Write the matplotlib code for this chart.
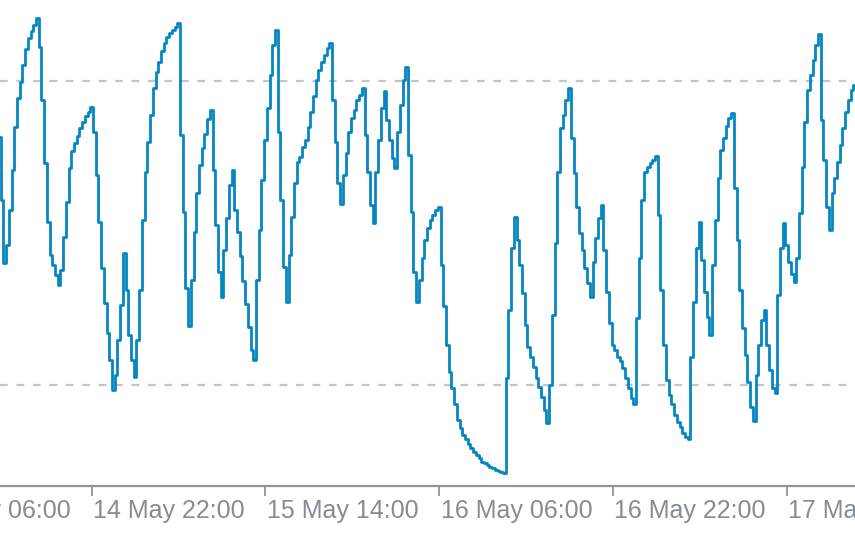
import pandas as pd
import matplotlib
matplotlib.use("Agg")
import matplotlib.pyplot as plt
import matplotlib.dates as mdates

# ------------------------------
# Data (stochastic main line, M15 bars)
# ------------------------------
start = "2024-05-14 13:30"
values = [
    69.0, 56.5, 44.1, 47.6, 54.6, 62.4, 70.9, 76.7, 79.8, 83.2,
    86.3, 88.5, 89.9, 91.1, 92.4, 86.7, 76.3, 63.8, 52.2, 45.7,
    43.7, 41.7, 39.8, 42.7, 49.2, 56.1, 62.8, 66.2, 67.8, 69.2,
    70.7, 71.9, 73.1, 73.9, 74.9, 69.9, 61.5, 52.2, 43.1, 36.2,
    30.3, 24.9, 19.0, 22.0, 28.9, 35.8, 46.1, 38.8, 29.9, 24.9,
    21.6, 28.9, 38.8, 52.6, 62.1, 68.0, 73.3, 78.6, 81.8, 83.8,
    85.9, 87.5, 88.7, 89.5, 90.1, 90.7, 91.5, 69.4, 54.2, 39.2,
    31.7, 40.7, 50.2, 57.9, 63.4, 66.8, 69.6, 72.5, 74.3, 62.4,
    51.6, 42.3, 37.4, 46.7, 53.0, 59.5, 62.4, 54.6, 50.2, 45.5,
    40.5, 36.0, 31.5, 26.9, 24.9, 40.7, 50.6, 60.5, 68.4, 74.7,
    81.2, 87.1, 90.1, 69.9, 56.5, 43.3, 36.4, 45.7, 53.2, 59.9,
    64.0, 65.0, 67.0, 68.4, 70.9, 73.9, 77.1, 80.2, 82.2, 83.8,
    85.1, 86.5, 87.5, 76.3, 68.0, 59.9, 55.7, 61.5, 65.8, 69.9,
    72.7, 74.3, 76.3, 77.3, 78.6, 69.4, 62.1, 55.5, 52.0, 62.1,
    68.4, 74.7, 78.0, 72.3, 68.4, 64.8, 62.8, 69.9, 75.3, 80.2,
    82.8, 65.4, 54.2, 42.3, 36.4, 40.7, 45.1, 48.6, 51.0, 52.6,
    53.6, 54.6, 55.1, 43.7, 35.6, 27.9, 22.6, 19.4, 16.1, 13.1,
    11.5, 10.1, 9.2, 8.2, 7.6, 6.8, 6.2, 5.6, 4.8, 4.6,
    4.2, 3.8, 3.6, 3.2, 3.0, 2.8, 2.6, 21.4, 34.8, 47.1,
    53.2, 48.6, 43.7, 38.2, 31.9, 27.5, 25.5, 23.6, 21.4, 19.6,
    17.6, 15.1, 12.5, 20.0, 33.8, 48.0, 62.1, 70.7, 73.3, 76.3,
    78.6, 68.8, 61.9, 55.1, 50.0, 46.7, 43.1, 40.1, 37.4, 44.3,
    49.0, 53.0, 55.5, 46.7, 38.4, 32.2, 27.9, 26.9, 25.5, 24.6,
    23.4, 21.4, 19.4, 17.4, 16.1, 33.2, 45.1, 56.5, 62.1, 63.0,
    63.8, 64.4, 65.2, 53.6, 38.8, 27.9, 21.0, 18.0, 16.1, 14.1,
    12.7, 11.7, 10.5, 9.6, 9.2, 25.5, 36.4, 47.1, 52.2, 44.7,
    38.4, 33.4, 29.9, 43.7, 52.6, 60.9, 66.4, 68.8, 71.1, 72.7,
    73.7, 58.9, 48.6, 38.8, 31.3, 25.9, 20.6, 15.7, 12.9, 22.0,
    27.9, 32.8, 34.8, 27.9, 23.0, 19.4, 18.4, 37.8, 47.1, 52.0,
    47.6, 44.3, 41.9, 40.3, 45.1, 54.0, 63.0, 71.9, 78.2, 81.2,
    84.2, 87.1, 89.3, 72.3, 64.4, 55.1, 50.6, 57.9, 60.9, 64.0,
    67.4, 70.7, 73.9, 76.3, 78.2, 79.2,
]
levels = [20, 80]
tick_times = ["2024-05-14 06:00", "2024-05-14 22:00", "2024-05-15 14:00",
              "2024-05-16 06:00", "2024-05-16 22:00", "2024-05-17 14:00"]
tick_labels = ["14 May 06:00", "14 May 22:00", "15 May 14:00",
               "16 May 06:00", "16 May 22:00", "17 May 14:00"]

times = pd.date_range(start, periods=len(values), freq="15min")

# ------------------------------
# Style
# ------------------------------
LINE_C = "#0586c2"
GRID_C = "#c4c4c4"
AXIS_C = "#8e949a"
TEXT_C = "#868c93"

fig = plt.figure(figsize=(8.55, 5.34), dpi=100, facecolor="white")
ax = fig.add_axes([0, 48 / 534, 1, 486 / 534])
ax.set_facecolor("white")

ax.plot(times, values, color=LINE_C, lw=2.0, drawstyle="steps-mid")
for lvl in levels:
    ax.axhline(lvl, color=GRID_C, lw=1.6, linestyle=(0, (3.5, 3.9)), zorder=0)

# visible window (bar 0 sits just left of the frame)
step = pd.Timedelta(minutes=15)
t0 = pd.Timestamp(start)
ax.set_xlim(t0 + 0.225 * step, t0 + 315.14 * step)
ax.set_ylim(0, 96)

for side in ["top", "left", "right"]:
    ax.spines[side].set_visible(False)
ax.spines["bottom"].set_color(AXIS_C)
ax.spines["bottom"].set_linewidth(1.6)
ax.set_yticks([])

tick_ts = [pd.Timestamp(t) for t in tick_times]
in_view = [t for t in tick_ts if t > t0]
ax.set_xticks(in_view)
ax.set_xticklabels([])
ax.tick_params(axis="x", length=7.2, width=1.3, color=AXIS_C, direction="out")

for t, lab in zip(tick_ts, tick_labels):
    ax.annotate(lab, xy=(mdates.date2num(t), 0), xycoords=("data", "axes fraction"),
                xytext=(1, -9.5), textcoords="offset points", ha="left", va="top",
                fontsize=18, family="Liberation Sans", color=TEXT_C,
                annotation_clip=False)

fig.savefig("out.png", dpi=100, facecolor="white")
